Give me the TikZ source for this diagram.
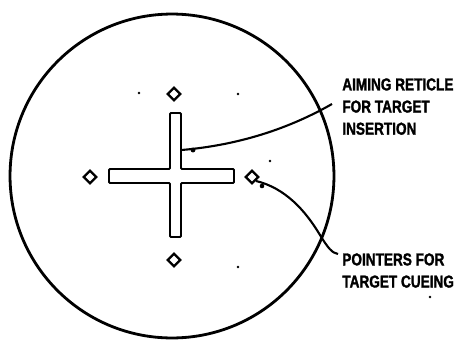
\documentclass[tikz,border=0pt]{standalone}
\usepackage{fontspec}
\usetikzlibrary{shapes.geometric}
\newfontfamily\lblfont[FakeStretch=0.79,FakeBold=1.5]{Liberation Sans Bold}
\tikzset{
  px/.style={x=0.02cm,y=-0.02cm},
  ring/.style={draw=black,line width=1.6pt},
  reticle/.style={draw=black,line width=1.1pt,rounded corners=0.6pt},
  pointer/.style={draw=black,line width=1.3pt,shape=diamond,minimum width=0.27cm,minimum height=0.27cm,inner sep=0pt},
  leader/.style={draw=black,line width=1.2pt},
  lbl/.style={font=\lblfont\fontsize{9.8}{12.6}\selectfont,align=left,inner sep=0pt,anchor=north west},
  speck/.style={fill=black,circle,inner sep=0pt,minimum size=1.5pt}
}
\begin{document}
\begin{tikzpicture}[px]
\useasboundingbox (0,0) rectangle (461,339);
% outer field of view
\draw[ring] (172,176) circle[radius=3.24cm];
% aiming reticle (cross)
\draw[reticle] (170,113) -- (181,113) -- (181,169) -- (234,169) -- (234,183) -- (181,183)
  -- (181,237) -- (170,237) -- (170,183) -- (109,183) -- (109,169) -- (170,169) -- cycle;
% pointers
\node[pointer] (pt) at (174,94) {};
\node[pointer] (pb) at (174,260) {};
\node[pointer] (pl) at (90,177) {};
\node[pointer] (pr) at (252,177) {};
% specks
\node[speck] (s1) at (139,93) {};
\node[speck] (s2) at (238,94) {};
\node[speck] (s3) at (270,161) {};
\node[speck] (s4) at (238,267) {};
\node[speck] (s5) at (430,297) {};
% labels
\node[lbl] (aim) at (342,78) {AIMING RETICLE\\FOR TARGET\\INSERTION};
\node[lbl] (cue) at (342,253) {POINTERS FOR\\TARGET CUEING};
% leaders
\coordinate (retpt) at (181.5,150);
\coordinate (aimend) at (332,104);
\draw[leader] (retpt) .. controls (240,145) and (290,128) .. (aimend);
\fill (193,150) circle[radius=1.4pt];
\coordinate (cueend) at (338,254);
\draw[leader] (pr.south east) .. controls (285,188) and (305,210) .. (320,235)
  .. controls (328,248) and (332,253) .. (cueend);
\fill (262,186) circle[radius=1.3pt];
\end{tikzpicture}
\end{document}
